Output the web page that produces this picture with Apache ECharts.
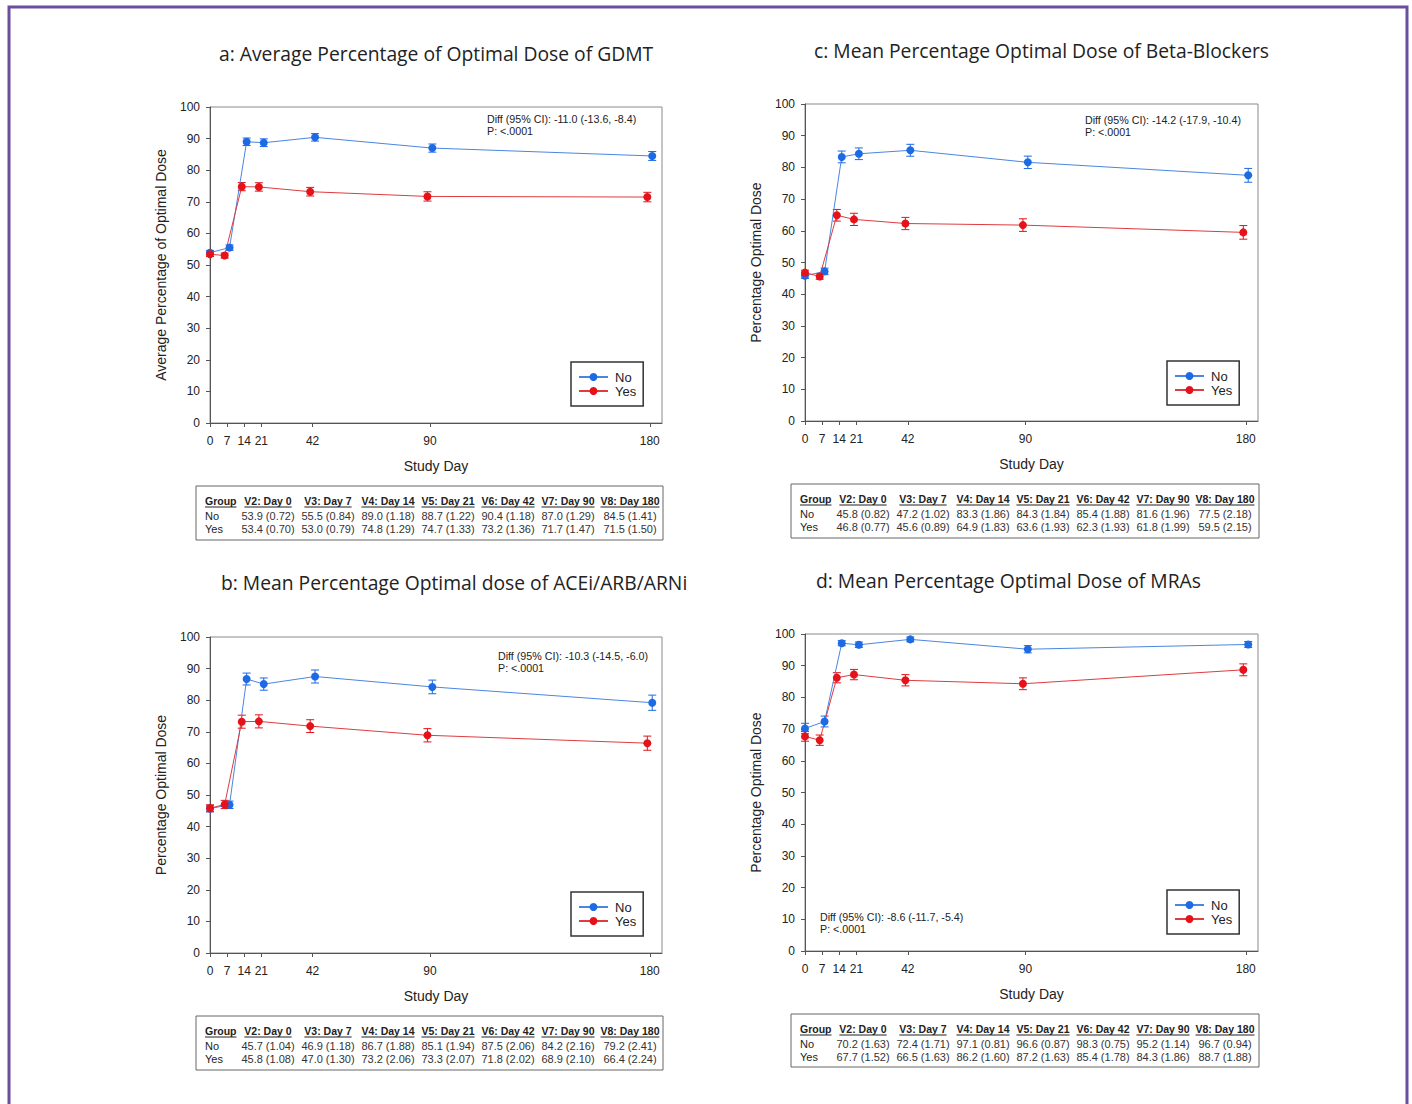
<!DOCTYPE html>
<html>
<head>
<meta charset="utf-8">
<script src="https://cdn.jsdelivr.net/npm/echarts@6/dist/echarts.min.js"></script>
<style>
html,body{margin:0;padding:0;background:#fff;}
#chart{width:1412px;height:1104px;}
</style>
</head>
<body>
<div id="chart"></div>
<script>
// ---------- DATA ----------
const days = [0, 7, 14, 21, 42, 90, 180];
const visitLabels = ['V2: Day 0', 'V3: Day 7', 'V4: Day 14', 'V5: Day 21', 'V6: Day 42', 'V7: Day 90', 'V8: Day 180'];
const groupNames = ['No', 'Yes'];

// a: GDMT
const gdmtNoMean  = [53.9, 55.5, 89.0, 88.7, 90.4, 87.0, 84.5];
const gdmtNoSE    = [0.72, 0.84, 1.18, 1.22, 1.18, 1.29, 1.41];
const gdmtYesMean = [53.4, 53.0, 74.8, 74.7, 73.2, 71.7, 71.5];
const gdmtYesSE   = [0.70, 0.79, 1.29, 1.33, 1.36, 1.47, 1.50];

// b: ACEi/ARB/ARNi
const aceNoMean  = [45.7, 46.9, 86.7, 85.1, 87.5, 84.2, 79.2];
const aceNoSE    = [1.04, 1.18, 1.88, 1.94, 2.06, 2.16, 2.41];
const aceYesMean = [45.8, 47.0, 73.2, 73.3, 71.8, 68.9, 66.4];
const aceYesSE   = [1.08, 1.30, 2.06, 2.07, 2.02, 2.10, 2.24];

// c: Beta-Blockers
const bbNoMean  = [45.8, 47.2, 83.3, 84.3, 85.4, 81.6, 77.5];
const bbNoSE    = [0.82, 1.02, 1.86, 1.84, 1.88, 1.96, 2.18];
const bbYesMean = [46.8, 45.6, 64.9, 63.6, 62.3, 61.8, 59.5];
const bbYesSE   = [0.77, 0.89, 1.83, 1.93, 1.93, 1.99, 2.15];

// d: MRAs
const mraNoMean  = [70.2, 72.4, 97.1, 96.6, 98.3, 95.2, 96.7];
const mraNoSE    = [1.63, 1.71, 0.81, 0.87, 0.75, 1.14, 0.94];
const mraYesMean = [67.7, 66.5, 86.2, 87.2, 85.4, 84.3, 88.7];
const mraYesSE   = [1.52, 1.63, 1.60, 1.63, 1.78, 1.86, 1.88];

const panelTitles = [
  'a: Average Percentage of Optimal Dose of GDMT',
  'c: Mean Percentage Optimal Dose of Beta-Blockers',
  'b: Mean Percentage Optimal dose of ACEi/ARB/ARNi',
  'd: Mean Percentage Optimal Dose of MRAs'
];
const yAxisNames = ['Average Percentage of Optimal Dose', 'Percentage Optimal Dose', 'Percentage Optimal Dose', 'Percentage Optimal Dose'];
const diffTexts = [
  'Diff (95% CI): -11.0 (-13.6, -8.4)',
  'Diff (95% CI): -14.2 (-17.9, -10.4)',
  'Diff (95% CI): -10.3 (-14.5, -6.0)',
  'Diff (95% CI): -8.6 (-11.7, -5.4)'
];
const pTexts = ['P: <.0001', 'P: <.0001', 'P: <.0001', 'P: <.0001'];
const xTickValues = [0, 7, 14, 21, 42, 90, 180];
const xAxisName = 'Study Day';
const tableGroupHeader = 'Group';

// ---------- LAYOUT / STYLE ----------
const panelData = [
  {no: [gdmtNoMean, gdmtNoSE], yes: [gdmtYesMean, gdmtYesSE]},
  {no: [bbNoMean, bbNoSE], yes: [bbYesMean, bbYesSE]},
  {no: [aceNoMean, aceNoSE], yes: [aceYesMean, aceYesSE]},
  {no: [mraNoMean, mraNoSE], yes: [mraYesMean, mraYesSE]}
];
const layout = [
  {grid: {left: 210, top: 107, width: 452, height: 316}, title: [436, 54], diff: [487, 119], legend: [571, 362], table: [196, 486, 467, 54]},
  {grid: {left: 805, top: 104, width: 453, height: 317}, title: [1042, 51], diff: [1085, 120], legend: [1167, 361], table: [791, 484, 468, 54]},
  {grid: {left: 210, top: 637, width: 452, height: 316}, title: [454, 583], diff: [498, 656], legend: [571, 892], table: [196, 1016, 467, 54]},
  {grid: {left: 805, top: 634, width: 453, height: 317}, title: [1008, 581], diff: [820, 917], legend: [1167, 890], table: [791, 1014, 468, 53]}
];
const colors = {No: '#1d6ae5', Yes: '#e5121a'};
const lineColors = {No: '#4a86e0', Yes: '#de3c40'};
const dodge = {No: 1, Yes: -1};
const colCenters = [72, 132, 192, 252, 312, 372, 434];
const axisFont = 'Liberation Sans, Arial, sans-serif';
const titleFont = '"Open Sans", "Noto Sans", sans-serif';
const titleSize = 19.3;

function fmt(v, d) { return v.toFixed(d); }

const measureCtx = document.createElement('canvas').getContext('2d');
function textWidth(t, font) { measureCtx.font = font; return measureCtx.measureText(t).width; }

const grids = [], xAxes = [], yAxes = [], series = [], titles = [], legends = [], graphics = [];

// outer purple frame
graphics.push({type: 'rect', shape: {x: 9, y: 7, width: 1398, height: 1120}, style: {fill: 'none', stroke: '#6b4f9f', lineWidth: 3}, silent: true});

layout.forEach((L, i) => {
  grids.push(Object.assign({show: true, borderColor: '#8a8a8a', borderWidth: 1, backgroundColor: 'transparent'}, L.grid));
  xAxes.push({
    type: 'value', gridIndex: i, min: 0, max: 185,
    name: xAxisName, nameLocation: 'middle', nameGap: 36,
    nameTextStyle: {fontFamily: axisFont, fontSize: 14, color: '#222'},
    axisLine: {onZero: false, lineStyle: {color: '#555'}},
    axisTick: {show: true, inside: false, length: 4, customValues: xTickValues, lineStyle: {color: '#555'}},
    axisLabel: {customValues: xTickValues, margin: 12, fontFamily: axisFont, fontSize: 12, color: '#222'},
    splitLine: {show: false}
  });
  yAxes.push({
    type: 'value', gridIndex: i, min: 0, max: 100, interval: 10,
    name: yAxisNames[i], nameLocation: 'middle', nameGap: 42, nameRotate: 90,
    nameTextStyle: {fontFamily: axisFont, fontSize: 14, color: '#222'},
    axisLine: {show: true, lineStyle: {color: '#555'}},
    axisTick: {show: true, inside: false, length: 4, lineStyle: {color: '#555'}},
    axisLabel: {margin: 10, fontFamily: axisFont, fontSize: 12, color: '#222'},
    splitLine: {show: false}
  });
  titles.push({
    text: panelTitles[i], left: L.title[0], top: L.title[1] - 10, textAlign: 'left', padding: 0,
    textStyle: {fontFamily: titleFont, fontSize: titleSize, fontWeight: 'normal', color: '#222'}
  });

  ['No', 'Yes'].forEach(g => {
    const [mean, se] = panelData[i][g === 'No' ? 'no' : 'yes'];
    const xs = days.map(d => d === 0 ? d : d + dodge[g]);
    series.push({
      type: 'line', name: g, xAxisIndex: i, yAxisIndex: i, z: 3,
      data: xs.map((x, k) => [x, mean[k]]),
      symbol: 'circle', symbolSize: 8, showSymbol: true, clip: false,
      itemStyle: {color: colors[g], borderWidth: 0},
      lineStyle: {color: lineColors[g], width: 1},
      emphasis: {disabled: true},
      animation: false
    });
    series.push({
      type: 'custom', name: g + ' SE', xAxisIndex: i, yAxisIndex: i, z: 2, silent: true,
      data: xs.map((x, k) => [x, mean[k] - se[k], mean[k] + se[k]]),
      renderItem: (params, api) => {
        const x = api.value(0);
        const p1 = api.coord([x, api.value(1)]);
        const p2 = api.coord([x, api.value(2)]);
        const w = 4;
        const st = {stroke: colors[g], lineWidth: 1};
        return {type: 'group', children: [
          {type: 'line', shape: {x1: p1[0], y1: p1[1], x2: p2[0], y2: p2[1]}, style: st},
          {type: 'line', shape: {x1: p1[0] - w, y1: p1[1], x2: p1[0] + w, y2: p1[1]}, style: st},
          {type: 'line', shape: {x1: p2[0] - w, y1: p2[1], x2: p2[0] + w, y2: p2[1]}, style: st}
        ]};
      }
    });
  });

  legends.push({
    data: groupNames, left: L.legend[0], top: L.legend[1], orient: 'vertical',
    itemWidth: 29, itemHeight: 10, itemGap: 0, padding: [8, 7, 8, 7],
    borderColor: '#333', borderWidth: 1.5, backgroundColor: '#fff',
    textStyle: {fontFamily: axisFont, fontSize: 13, lineHeight: 14, color: '#222', padding: [0, 0, 0, 2]},
    selectedMode: false
  });

  // annotation text
  const annFont = '10.7px ' + axisFont;
  graphics.push({type: 'text', x: L.diff[0], y: L.diff[1], style: {text: diffTexts[i], font: annFont, fill: '#222', verticalAlign: 'middle'}, silent: true});
  graphics.push({type: 'text', x: L.diff[0], y: L.diff[1] + 11.5, style: {text: pTexts[i], font: annFont, fill: '#222', verticalAlign: 'middle'}, silent: true});

  // table
  const [tx, ty, tw, th] = L.table;
  graphics.push({type: 'rect', shape: {x: tx, y: ty, width: tw, height: th}, style: {fill: '#fff', stroke: '#666', lineWidth: 1}, silent: true});
  const hy = ty + 15, r1 = ty + 29.5, r2 = ty + 42.5;
  const boldFont = 'bold 10.5px ' + axisFont;
  const normFont = '11px ' + axisFont;
  graphics.push({type: 'text', x: tx + 9, y: hy, style: {text: tableGroupHeader, font: boldFont, fill: '#222', verticalAlign: 'middle'}, silent: true});
  const gw = textWidth(tableGroupHeader, boldFont);
  graphics.push({type: 'line', shape: {x1: tx + 9, y1: hy + 6, x2: tx + 9 + gw, y2: hy + 6}, style: {stroke: '#222', lineWidth: 1}, silent: true});
  graphics.push({type: 'text', x: tx + 9, y: r1, style: {text: groupNames[0], font: normFont, fill: '#222', verticalAlign: 'middle'}, silent: true});
  graphics.push({type: 'text', x: tx + 9, y: r2, style: {text: groupNames[1], font: normFont, fill: '#222', verticalAlign: 'middle'}, silent: true});
  const pd = panelData[i];
  visitLabels.forEach((lab, k) => {
    const cx = tx + colCenters[k];
    graphics.push({type: 'text', x: cx, y: hy, style: {text: lab, font: boldFont, fill: '#222', align: 'center', verticalAlign: 'middle'}, silent: true});
    const w = textWidth(lab, boldFont);
    graphics.push({type: 'line', shape: {x1: cx - w / 2, y1: hy + 6, x2: cx + w / 2, y2: hy + 6}, style: {stroke: '#222', lineWidth: 1}, silent: true});
    graphics.push({type: 'text', x: cx, y: r1, style: {text: fmt(pd.no[0][k], 1) + ' (' + fmt(pd.no[1][k], 2) + ')', font: normFont, fill: '#333', align: 'center', verticalAlign: 'middle'}, silent: true});
    graphics.push({type: 'text', x: cx, y: r2, style: {text: fmt(pd.yes[0][k], 1) + ' (' + fmt(pd.yes[1][k], 2) + ')', font: normFont, fill: '#333', align: 'center', verticalAlign: 'middle'}, silent: true});
  });
});

// center titles using measured width
titles.forEach((t, i) => {
  const w = textWidth(t.text, titleSize + 'px ' + titleFont);
  t.left = Math.round(layout[i].title[0] - w / 2);
});

const chart = echarts.init(document.getElementById('chart'), null, {renderer: 'svg', width: 1412, height: 1104});
chart.setOption({
  animation: false,
  backgroundColor: '#fff',
  title: titles,
  grid: grids,
  xAxis: xAxes,
  yAxis: yAxes,
  legend: legends,
  series: series,
  graphic: graphics
});
</script>
</body>
</html>
